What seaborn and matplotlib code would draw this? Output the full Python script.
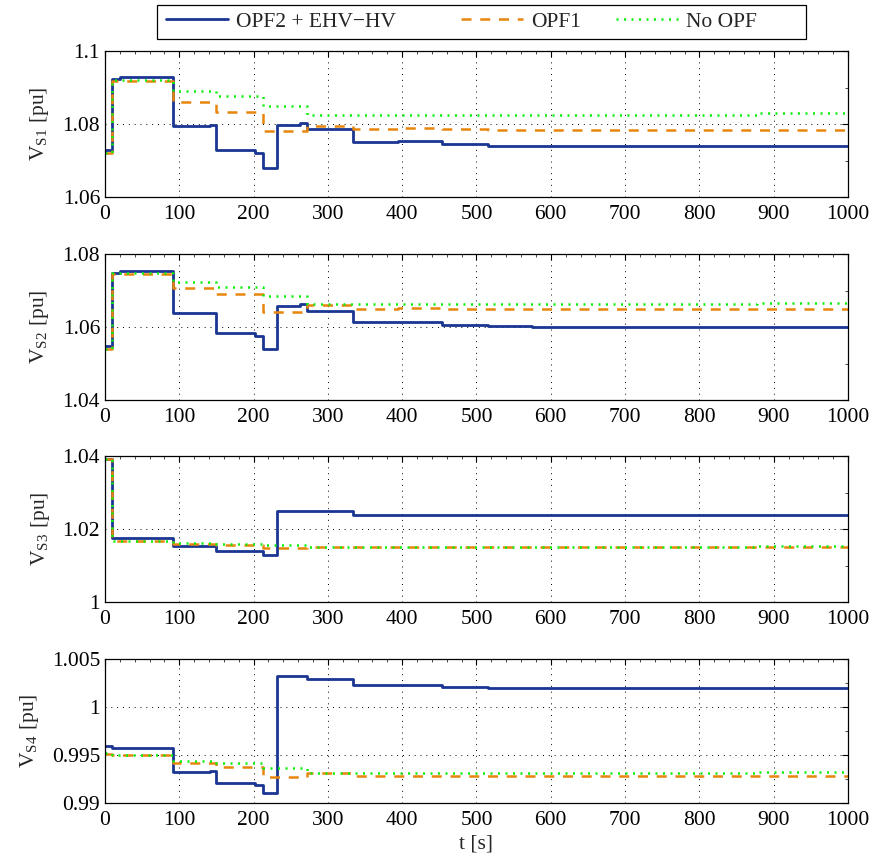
import matplotlib
matplotlib.use("Agg")
import matplotlib.pyplot as plt
import seaborn as sns
import pandas as pd
from matplotlib.ticker import FixedLocator, FixedFormatter, MultipleLocator
from matplotlib.lines import Line2D
from matplotlib.patches import Rectangle

# ---------------- data ----------------
t = [0, 10, 20, 91, 141, 150, 202, 212, 232, 262, 272, 334, 395, 454, 515, 575, 877, 1000]

series_names = ["OPF2 + EHV\u2212HV", "OPF1", "No OPF"]

vs1_opf2 = [1.0729, 1.0922, 1.0928, 1.0795, 1.0797, 1.0729, 1.0720, 1.0679, 1.0796, 1.0804,
            1.0785, 1.0752, 1.0754, 1.0746, 1.0741, 1.0739, 1.0739, 1.0739]
vs1_opf1 = [1.0720, 1.0919, 1.0919, 1.0861, 1.0861, 1.0834, 1.0834, 1.0781, 1.0781, 1.0781,
            1.0795, 1.0785, 1.0788, 1.0786, 1.0783, 1.0783, 1.0783, 1.0783]
vs1_noopf = [1.0720, 1.0921, 1.0921, 1.0891, 1.0891, 1.0877, 1.0877, 1.0850, 1.0850, 1.0850,
             1.0825, 1.0825, 1.0825, 1.0825, 1.0825, 1.0825, 1.0829, 1.0829]

vs2_opf2 = [1.0548, 1.0749, 1.0754, 1.0637, 1.0639, 1.0583, 1.0574, 1.0539, 1.0657, 1.0662,
            1.0643, 1.0614, 1.0615, 1.0606, 1.0602, 1.0600, 1.0600, 1.0600]
vs2_opf1 = [1.0541, 1.0745, 1.0745, 1.0708, 1.0708, 1.0691, 1.0691, 1.0641, 1.0641, 1.0641,
            1.0660, 1.0648, 1.0652, 1.0649, 1.0648, 1.0648, 1.0648, 1.0648]
vs2_noopf = [1.0541, 1.0747, 1.0747, 1.0722, 1.0722, 1.0710, 1.0710, 1.0685, 1.0685, 1.0685,
             1.0664, 1.0664, 1.0664, 1.0664, 1.0664, 1.0664, 1.0667, 1.0667]

vs3_opf2 = [1.0391, 1.0175, 1.0175, 1.0153, 1.0153, 1.0141, 1.0139, 1.0129, 1.0250, 1.0250,
            1.0248, 1.0239, 1.0239, 1.0238, 1.0237, 1.0237, 1.0237, 1.0237]
vs3_opf1 = [1.0391, 1.0168, 1.0168, 1.0159, 1.0159, 1.0156, 1.0156, 1.0147, 1.0147, 1.0147,
            1.0152, 1.0150, 1.0150, 1.0150, 1.0150, 1.0150, 1.0150, 1.0150]
vs3_noopf = [1.0391, 1.0168, 1.0168, 1.0163, 1.0163, 1.0160, 1.0160, 1.0155, 1.0155, 1.0155,
             1.0152, 1.0152, 1.0152, 1.0152, 1.0152, 1.0152, 1.0153, 1.0153]

vs4_opf2 = [0.99594, 0.99572, 0.99572, 0.99320, 0.99333, 0.99205, 0.99188, 0.99107, 1.00323, 1.00323,
            1.00288, 1.00229, 1.00225, 1.00212, 1.00198, 1.00194, 1.00194, 1.00194]
vs4_opf1 = [0.99510, 0.99500, 0.99500, 0.99413, 0.99413, 0.99372, 0.99372, 0.99268, 0.99268, 0.99268,
            0.99309, 0.99285, 0.99285, 0.99285, 0.99285, 0.99285, 0.99285, 0.99285]
vs4_noopf = [0.99517, 0.99500, 0.99500, 0.99441, 0.99441, 0.99413, 0.99413, 0.99361, 0.99361, 0.99361,
             0.99316, 0.99316, 0.99316, 0.99316, 0.99316, 0.99316, 0.99320, 0.99320]

ylabels = ["S1", "S2", "S3", "S4"]
yticks_list = [[1.06, 1.08, 1.1], [1.04, 1.06, 1.08], [1.0, 1.02, 1.04], [0.99, 0.995, 1.0, 1.005]]
yticklabels_list = [["1.06", "1.08", "1.1"], ["1.04", "1.06", "1.08"], ["1", "1.02", "1.04"],
                    ["0.99", "0.995", "1", "1.005"]]
ylims = [(1.06, 1.1), (1.04, 1.08), (1.0, 1.04), (0.99, 1.005)]
yminor = [0.01, 0.01, 0.01, 0.0025]
xticks = [0, 100, 200, 300, 400, 500, 600, 700, 800, 900, 1000]

panels = [
    (vs1_opf2, vs1_opf1, vs1_noopf),
    (vs2_opf2, vs2_opf1, vs2_noopf),
    (vs3_opf2, vs3_opf1, vs3_noopf),
    (vs4_opf2, vs4_opf1, vs4_noopf),
]

# ---------------- style ----------------
sns.set_style("white")
plt.rcParams["font.family"] = ["Liberation Serif", "DejaVu Serif"]
plt.rcParams["mathtext.fontset"] = "stix"
plt.rcParams["xtick.direction"] = "in"
plt.rcParams["ytick.direction"] = "in"

c_blue = "#1a3592"
c_orange = "#e8850c"
c_green = "#0cf00c"
styles = [
    dict(color=c_blue, linewidth=2.0, dashes=None),
    dict(color=c_orange, linewidth=1.8, dashes=(4.0, 3.5)),
    dict(color=c_green, linewidth=1.8, dashes=(0.8, 2.2)),
]

fig = plt.figure(figsize=(8.7, 8.61), dpi=100)

left = 105 / 870
width = (848 - 105) / 870
tops = [51, 254, 456, 659]
bottoms = [197, 400, 602, 803]
FS = 15.5

axes = []
for i in range(4):
    ax = fig.add_axes([left, 1 - bottoms[i] / 861, width, (bottoms[i] - tops[i]) / 861])
    axes.append(ax)
    for j, vals in enumerate(panels[i]):
        df = pd.DataFrame({"t": t, "v": vals})
        st = styles[j]
        sns.lineplot(data=df, x="t", y="v", ax=ax, estimator=None, sort=False,
                     drawstyle="steps-post", color=st["color"], linewidth=st["linewidth"])
        if st["dashes"] is not None:
            ax.lines[-1].set_dashes(st["dashes"])
    ax.set_xlim(0, 1000)
    ax.set_ylim(*ylims[i])
    ax.xaxis.set_major_locator(FixedLocator(xticks))
    ax.set_xticklabels([str(x) for x in xticks])
    ax.yaxis.set_major_locator(FixedLocator(yticks_list[i]))
    ax.yaxis.set_major_formatter(FixedFormatter(yticklabels_list[i]))
    ax.yaxis.set_minor_locator(MultipleLocator(yminor[i]))
    ax.xaxis.set_minor_locator(MultipleLocator(20))
    ax.tick_params(which="both", top=True, right=True, direction="in", labelsize=FS,
                   colors="black")
    ax.tick_params(which="major", length=4, width=0.8)
    ax.tick_params(which="minor", length=2, width=0.5)
    ax.tick_params(axis="x", which="major", pad=6)
    ax.grid(True, which="major", color="black", linestyle=(0, (1, 5)), linewidth=0.7)
    for s in ax.spines.values():
        s.set_color("black")
        s.set_linewidth(0.9)
    ax.set_ylabel("V$_{\\mathregular{" + ylabels[i] + "}}$ [pu]", fontsize=FS, labelpad=8)
    ax.set_xlabel("")

axes[-1].set_xlabel("t [s]", fontsize=FS, labelpad=3)

# legend: three entries at the reference's column positions, one common frame
entry_x = [166, 461, 616]
for k in range(3):
    st = styles[k]
    h = Line2D([], [], color=st["color"], linewidth=st["linewidth"])
    if st["dashes"] is not None:
        h.set_dashes(st["dashes"])
    fig.legend([h], [series_names[k]], loc="center left",
               bbox_to_anchor=(entry_x[k] / 870, 1 - 22 / 861), frameon=False,
               fontsize=FS, handlelength=2.9, handletextpad=0.35, borderaxespad=0,
               borderpad=0)
fig.patches.append(Rectangle((157 / 870, 1 - 39 / 861), (806 - 157) / 870, 34 / 861,
                             transform=fig.transFigure, fill=False, edgecolor="black",
                             linewidth=0.9))

fig.savefig("out.png", dpi=100)
